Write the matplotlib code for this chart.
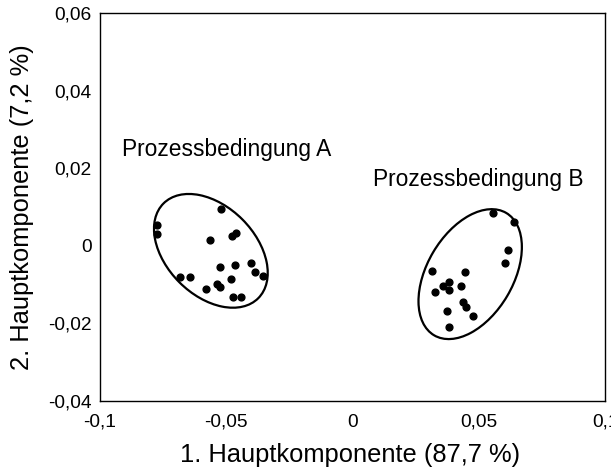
import numpy as np
import matplotlib
matplotlib.use("Agg")
import matplotlib.pyplot as plt
from matplotlib.patches import Ellipse
from matplotlib.transforms import ScaledTranslation

plt.rcParams['font.family'] = ['Liberation Sans', 'DejaVu Sans']

# Cluster A (Prozessbedingung A)
a_x = [-0.0773, -0.0773, -0.0520, -0.0564, -0.0477, -0.0460, -0.0523, -0.0467,
       -0.0403, -0.0387, -0.0356, -0.0684, -0.0644, -0.0483, -0.0536, -0.0523,
       -0.0580, -0.0473, -0.0443]
a_y = [0.0054, 0.0030, 0.0095, 0.0015, 0.0025, 0.0034, -0.0054, -0.0049,
       -0.0044, -0.0068, -0.0077, -0.0080, -0.0080, -0.0086, -0.0098, -0.0107,
       -0.0112, -0.0131, -0.0131]

# Cluster B (Prozessbedingung B)
b_x = [0.0558, 0.0641, 0.0616, 0.0605, 0.0316, 0.0445, 0.0381, 0.0358,
       0.0381, 0.0429, 0.0325, 0.0438, 0.0449, 0.0476, 0.0376, 0.0381]
b_y = [0.0084, 0.0062, -0.0011, -0.0045, -0.0065, -0.0067, -0.0093, -0.0103,
       -0.0114, -0.0103, -0.0120, -0.0146, -0.0157, -0.0180, -0.0168, -0.0208]

# Ellipse parameters: center (data), full axes (inches on screen), angle (deg)
ell_centers = [(-0.0561, -0.0013), (0.0466, -0.0073)]
ell_axes = [(1.34, 0.89), (1.42, 0.86)]
ell_angles = [-45.0, 59.5]

x_ticks = [-0.1, -0.05, 0, 0.05, 0.1]
x_ticklabels = ['-0,1', '-0,05', '0', '0,05', '0,1']
y_ticks = [-0.04, -0.02, 0, 0.02, 0.04, 0.06]
y_ticklabels = ['-0,04', '-0,02', '0', '0,02', '0,04', '0,06']

labels = ['Prozessbedingung A', 'Prozessbedingung B']
label_pos = [(-0.0912, 0.0248), (0.0080, 0.0170)]

fig = plt.figure(figsize=(6.11, 4.72), dpi=100)
ax = fig.add_axes([0.1637, 0.1504, 0.8265, 0.8221])

ax.scatter(a_x, a_y, s=24, color='black', zorder=3)
ax.scatter(b_x, b_y, s=24, color='black', zorder=3)

for (cx, cy), (w, h), ang in zip(ell_centers, ell_axes, ell_angles):
    tr = fig.dpi_scale_trans + ScaledTranslation(cx, cy, ax.transData)
    e = Ellipse((0, 0), w, h, angle=ang, transform=tr, fill=False,
                edgecolor='black', linewidth=1.6)
    ax.add_patch(e)

for txt, (tx, ty) in zip(labels, label_pos):
    ax.text(tx, ty, txt, fontsize=16.4, va='center', ha='left')

ax.set_xlim(-0.1, 0.1)
ax.set_ylim(-0.04, 0.06)
ax.set_xticks(x_ticks)
ax.set_xticklabels(x_ticklabels)
ax.set_yticks(y_ticks)
ax.set_yticklabels(y_ticklabels)
ax.tick_params(axis='x', length=0, labelsize=13.8, pad=9)
ax.tick_params(axis='y', length=0, labelsize=13.8, pad=6)
ax.set_xlabel('1. Hauptkomponente (87,7 %)', fontsize=18.4)
ax.set_ylabel('2. Hauptkomponente (7,2 %)', fontsize=18.4)
ax.xaxis.set_label_coords(0.495, -0.139)
ax.xaxis.label.set_va('center')
ax.yaxis.set_label_coords(-0.1545, 0.5)
ax.yaxis.label.set_va('center')
for s in ax.spines.values():
    s.set_linewidth(1.0)
    s.set_color('black')

fig.savefig('out.png', dpi=100)
